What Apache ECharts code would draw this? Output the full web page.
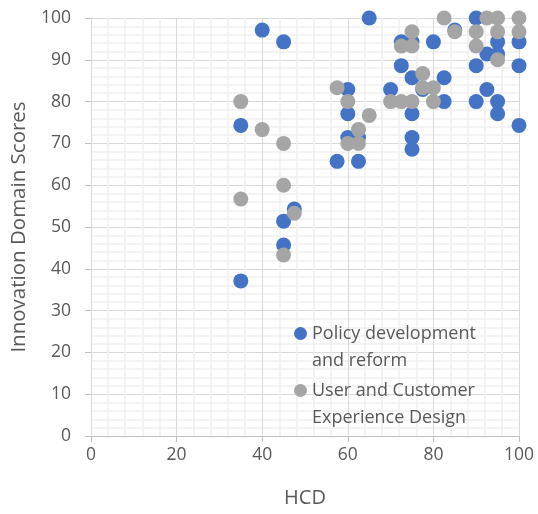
<!DOCTYPE html>
<html>
<head>
<meta charset="utf-8">
<script src="https://cdn.jsdelivr.net/npm/echarts@6/dist/echarts.min.js"></script>
<style>
  html, body { margin: 0; padding: 0; background: #fff; }
  #chart { width: 538px; height: 514px; }
</style>
</head>
<body>
<div id="chart"></div>
<script>
// Policy development and reform
const policyX = [35, 35, 40, 45, 45, 45, 47.5, 57.5, 60, 60, 60, 62.5, 62.5, 65, 70, 72.5, 72.5, 75, 75, 75, 75, 75, 77.5, 80, 82.5, 82.5, 85, 90, 90, 90, 92.5, 92.5, 95, 95, 95, 95, 100, 100, 100]
const policyY = [74.3, 37.1, 97.1, 94.3, 51.4, 45.7, 54.3, 65.7, 82.9, 77.1, 71.4, 71.4, 65.7, 100, 82.9, 94.3, 88.6, 94.3, 85.7, 77.1, 71.4, 68.6, 82.9, 94.3, 85.7, 80, 97.1, 100, 88.6, 80, 91.4, 82.9, 94.3, 91.4, 80, 77.1, 94.3, 88.6, 74.3]

// User and Customer Experience Design
const uxX = [35, 35, 40, 45, 45, 45, 47.5, 57.5, 60, 60, 62.5, 62.5, 65, 70, 72.5, 72.5, 75, 75, 75, 77.5, 77.5, 80, 80, 82.5, 85, 90, 90, 92.5, 95, 95, 95, 100, 100]
const uxY = [80, 56.7, 73.3, 70, 60, 43.3, 53.3, 83.3, 80, 70, 73.3, 70, 76.7, 80, 93.3, 80, 96.7, 93.3, 80, 86.7, 83.3, 83.3, 80, 100, 96.7, 96.7, 93.3, 100, 100, 96.7, 90, 100, 96.7]

const seriesNames = ['Policy development and reform', 'User and Customer Experience Design']
// leading blank line so the dot sits level with the first line of text
const legendLabels = {
  'Policy development and reform': ' \nPolicy development\nand reform',
  'User and Customer Experience Design': ' \nUser and Customer\nExperience Design',
}

const pairs = (xs, ys) => xs.map((x, i) => [x, ys[i]])

const FONT = '"Open Sans", sans-serif'
const TEXT = '#595959'

const chart = echarts.init(document.getElementById('chart'))

const legendBase = {
  orient: 'vertical',
  left: 294,
  padding: 0,
  icon: 'circle',
  itemWidth: 13,
  itemHeight: 13,
  formatter: (name) => legendLabels[name],
  textStyle: {
    fontFamily: FONT,
    fontSize: 18,
    color: TEXT,
    lineHeight: 27,
  },
}

chart.setOption({
  animation: false,
  textStyle: { fontFamily: FONT },
  grid: { left: 91, right: 19, top: 18, bottom: 78 },
  legend: [
    { ...legendBase, top: 293, data: [seriesNames[0]] },
    { ...legendBase, top: 350, data: [seriesNames[1]] },
  ],
  xAxis: {
    type: 'value',
    min: 0,
    max: 100,
    interval: 20,
    name: 'HCD',
    nameLocation: 'middle',
    nameGap: 52,
    nameTextStyle: { fontFamily: FONT, fontSize: 20, color: TEXT },
    axisLine: { show: true, lineStyle: { color: '#BFBFBF' } },
    axisTick: { show: true, length: 6, lineStyle: { color: '#BFBFBF' } },
    axisLabel: { fontFamily: FONT, fontSize: 17.5, color: TEXT, margin: 10 },
    splitLine: { show: true, lineStyle: { color: '#D9D9D9' } },
    minorTick: { show: false, splitNumber: 5 },
    minorSplitLine: { show: true, lineStyle: { color: '#F0F0F0', width: 1.5 } },
  },
  yAxis: {
    type: 'value',
    min: 0,
    max: 100,
    interval: 10,
    name: 'Innovation Domain Scores',
    nameLocation: 'middle',
    nameRotate: 90,
    nameGap: 60,
    nameTextStyle: { fontFamily: FONT, fontSize: 20.5, color: TEXT },
    axisLine: { show: true, lineStyle: { color: '#D9D9D9' } },
    axisTick: { show: true, length: 6, lineStyle: { color: '#BFBFBF' } },
    axisLabel: { fontFamily: FONT, fontSize: 17.5, color: TEXT, margin: 20 },
    splitLine: { show: true, lineStyle: { color: '#D9D9D9' } },
    minorTick: { show: false, splitNumber: 5 },
    minorSplitLine: { show: true, lineStyle: { color: '#F0F0F0', width: 1.5 } },
  },
  series: [
    {
      name: seriesNames[0],
      type: 'scatter',
      symbolSize: 15,
      itemStyle: { color: '#4472C4', opacity: 1 },
      data: pairs(policyX, policyY),
    },
    {
      name: seriesNames[1],
      type: 'scatter',
      symbolSize: 15,
      itemStyle: { color: '#A5A5A5', opacity: 1 },
      data: pairs(uxX, uxY),
    },
  ],
})
</script>
</body>
</html>
